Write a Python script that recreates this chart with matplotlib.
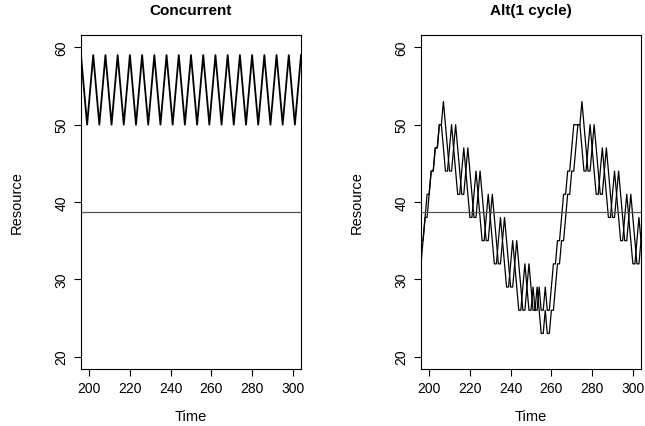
import matplotlib.pyplot as plt

plt.rcParams['font.family'] = ['Liberation Sans', 'DejaVu Sans']

# Concurrent: zig-zag vertices (time, resource)
conc_t = [196, 199, 202, 205, 208, 211, 214, 217, 220, 223, 226, 229, 232, 235,
          238, 241, 244, 247, 250, 253, 256, 259, 262, 265, 268, 271, 274, 277,
          280, 283, 286, 289, 292, 295, 298, 301, 304]
conc_v = [59, 50, 59, 50, 59, 50, 59, 50, 59, 50, 59, 50, 59, 50,
          59, 50, 59, 50, 59, 50, 59, 50, 59, 50, 59, 50, 59, 50,
          59, 50, 59, 50, 59, 50, 59, 50, 59]

# Alt(1 cycle): two series sampled at every time step 194..306
alt_time = list(range(194, 307))
alt_a = [29, 32, 32, 35, 38, 38, 41, 44, 44, 47, 47, 50, 50, 53,          # 194-207
         50, 47, 44, 44, 47, 50, 47, 44, 41, 41, 44, 47,                  # 208-219
         44, 41, 38, 38, 41, 44, 41, 38, 35, 35, 38, 41,                  # 220-231
         38, 35, 32, 32, 35, 38, 35, 32, 29, 29, 32, 35,                  # 232-243
         32, 29, 26, 26, 29, 32, 29, 26, 26, 29, 26, 23,                  # 244-255
         23, 26, 23, 23, 26, 26, 29, 32, 32, 35, 35, 38,                  # 256-267
         41, 41, 44, 44, 47, 50, 50, 53, 50, 47, 44, 44,                  # 268-279
         47, 50, 47, 44, 41, 41, 44, 47, 44, 41, 38, 38,                  # 280-291
         41, 44, 41, 38, 35, 35, 38, 41, 38, 35, 32, 32,                  # 292-303
         35, 38, 35]                                                      # 304-306
alt_b = [29, 32, 35, 35, 38, 41, 41, 44, 44, 47, 47, 50, 50, 47,          # 194-207
         44, 44, 47, 50, 47, 44, 41, 41, 44, 47, 44, 41,                  # 208-219
         38, 38, 41, 44, 41, 38, 35, 35, 38, 41, 38, 35,                  # 220-231
         32, 32, 35, 38, 35, 32, 29, 29, 32, 35, 32, 29,                  # 232-243
         26, 26, 29, 32, 29, 26, 26, 29, 26, 26, 29, 26,                  # 244-255
         26, 29, 26, 26, 29, 32, 32, 35, 35, 38, 41, 41,                  # 256-267
         44, 44, 47, 50, 50, 50, 50, 47, 44, 44, 47, 50,                  # 268-279
         47, 44, 41, 41, 44, 47, 44, 41, 38, 38, 41, 44,                  # 280-291
         41, 38, 35, 35, 38, 41, 38, 35, 32, 32, 35, 38,                  # 292-303
         35, 32, 32]                                                      # 304-306

mean_level = 38.7
x_ticks = [200, 220, 240, 260, 280, 300]
y_ticks = [20, 30, 40, 50, 60]

fig = plt.figure(figsize=(6.45, 4.27), dpi=100)
ax1 = fig.add_axes([81 / 645, 57 / 427, 220 / 645, 334 / 427])
ax2 = fig.add_axes([421 / 645, 57 / 427, 220 / 645, 334 / 427])


def style(ax, title):
    ax.set_xlim(196, 304)
    ax.set_ylim(18.4, 61.6)
    ax.set_xticks(x_ticks)
    ax.set_yticks(y_ticks)
    ax.set_yticklabels([str(v) for v in y_ticks], rotation=90, va='center')
    ax.tick_params(direction='out', length=5, width=0.8, labelsize=10, pad=4)
    for s in ax.spines.values():
        s.set_linewidth(0.8)
    ax.set_title(title, fontsize=11, fontweight='bold', pad=15)
    ax.set_xlabel('Time', fontsize=10.5, labelpad=10)
    ax.set_ylabel('Resource', fontsize=10.5, labelpad=22)
    ax.axhline(mean_level, color='#555555', lw=0.9)


ax1.plot(conc_t, conc_v, color='black', lw=1.3)
style(ax1, 'Concurrent')

ax2.plot(alt_time, alt_a, color='black', lw=0.9)
ax2.plot(alt_time, alt_b, color='black', lw=0.9)
style(ax2, 'Alt(1 cycle)')

fig.savefig('out.png', dpi=100)
